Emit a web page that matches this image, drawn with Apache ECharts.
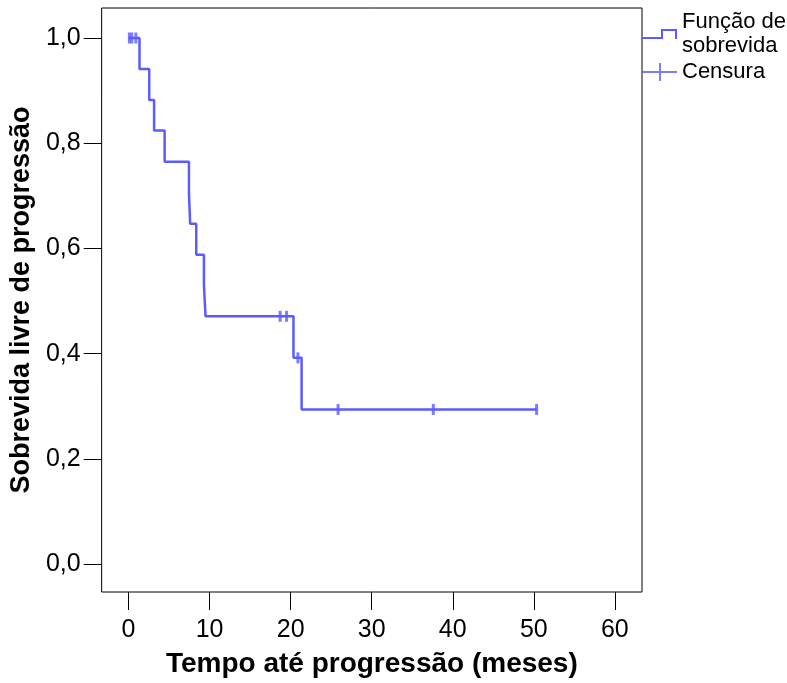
<!DOCTYPE html>
<html>
<head>
<meta charset="utf-8">
<script src="https://cdn.jsdelivr.net/npm/echarts@6/dist/echarts.min.js"></script>
<style>
html,body{margin:0;padding:0;background:#fff;}
#chart{width:787px;height:683px;}
</style>
</head>
<body>
<div id="chart"></div>
<script>
// Kaplan–Meier steps (time in months, survival after the event)
var stepTimes = [0, 1.35, 2.55, 3.15, 4.45, 7.45, 7.6, 8.35, 9.3, 9.5, 20.35, 21.35, 50.35];
var stepSurv  = [1.0, 0.941, 0.882, 0.824, 0.765, 0.706, 0.647, 0.588, 0.529, 0.471, 0.392, 0.294, 0.294];
// Censored observations
var censorTimes = [0.1, 0.4, 0.9, 18.7, 19.5, 20.9, 25.85, 37.6, 50.35];
var censorSurv  = [1.0, 1.0, 1.0, 0.471, 0.471, 0.392, 0.294, 0.294, 0.294];
// Tick labels
var xTicks = [0, 10, 20, 30, 40, 50, 60];
var yTicks = [0, 0.2, 0.4, 0.6, 0.8, 1.0];

var seriesNames = ['Função de sobrevida', 'Censura'];
var lineColor = '#5b5bff';
var font = 'Liberation Sans, Arial, sans-serif';

var chart = echarts.init(document.getElementById('chart'), null, {renderer: 'canvas'});

var stepData = stepTimes.map(function (t, i) { return [t, stepSurv[i]]; });
var censorData = censorTimes.map(function (t, i) { return [t, censorSurv[i]]; });

var option = {
  animation: false,
  backgroundColor: '#fff',
  grid: {
    left: 98, top: 8, width: 544, height: 587,
    show: true, borderColor: '#000', borderWidth: 1, backgroundColor: 'transparent'
  },
  legend: {
    orient: 'vertical',
    left: 637, top: 5,
    itemWidth: 35, itemHeight: 20, itemGap: 2,
    textStyle: {fontFamily: font, fontSize: 22, lineHeight: 24, color: '#000'},
    formatter: function (name) { return name === seriesNames[0] ? 'Função de\nsobrevida' : name; },
    data: [
      {name: seriesNames[0], icon: 'path://M0 0 M35 20 M0 13 L19 13 L19 5 L35 5 L35 15 L33 15 L33 7 L21 7 L21 15 L0 15 Z'},
      {name: seriesNames[1], icon: 'path://M0 0 M35 20 M0 9 L17 9 L17 1 L19 1 L19 9 L35 9 L35 11 L19 11 L19 19 L17 19 L17 11 L0 11 Z'}
    ]
  },
  xAxis: {
    type: 'value',
    min: -3.32, max: 63.35,
    name: 'Tempo até progressão (meses)',
    nameLocation: 'middle', nameGap: 58,
    nameTextStyle: {fontFamily: font, fontSize: 28, fontWeight: 'bold', color: '#000'},
    axisLine: {show: false, onZero: false},
    splitLine: {show: false},
    axisTick: {show: true, length: 18, inside: false, lineStyle: {color: '#000', width: 1}, customValues: xTicks},
    axisLabel: {fontFamily: font, fontSize: 25, color: '#000', margin: 26, customValues: xTicks,
      formatter: function (v) { return String(Math.round(v)); }}
  },
  yAxis: {
    type: 'value',
    min: -0.053, max: 1.057,
    name: 'Sobrevida livre de progressão',
    nameLocation: 'middle', nameGap: 56,
    nameTextStyle: {fontFamily: font, fontSize: 27, fontWeight: 'bold', color: '#000'},
    axisLine: {show: false, onZero: false},
    splitLine: {show: false},
    axisTick: {show: true, length: 18, inside: false, lineStyle: {color: '#000', width: 1}, customValues: yTicks},
    axisLabel: {fontFamily: font, fontSize: 25, color: '#000', margin: 21, customValues: yTicks,
      formatter: function (v) { return v.toFixed(1).replace('.', ','); }}
  },
  series: [
    {
      name: seriesNames[0],
      type: 'line',
      step: 'end',
      data: stepData,
      symbol: 'none',
      color: lineColor,
      lineStyle: {color: lineColor, width: 2.5},
      z: 2
    },
    {
      name: seriesNames[1],
      type: 'scatter',
      data: censorData,
      symbol: 'rect',
      symbolSize: [3, 11],
      color: lineColor,
      itemStyle: {color: lineColor},
      z: 3
    }
  ]
};
chart.setOption(option);
</script>
</body>
</html>
